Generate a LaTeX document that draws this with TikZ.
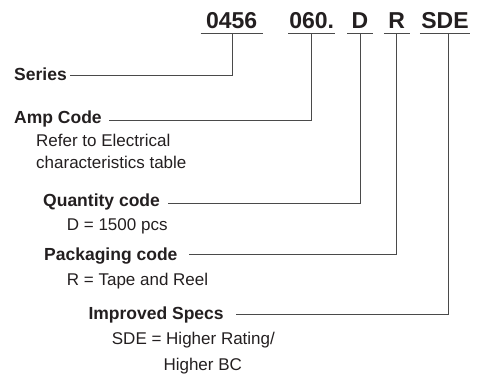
\documentclass[tikz,border=0pt]{standalone}
\usepackage{fontspec}
\setmainfont{Liberation Sans}
\usetikzlibrary{positioning}
\definecolor{tinta}{HTML}{231F20}
\definecolor{linea}{HTML}{4A4A4A}
\tikzset{
  codigo/.style={font=\fontsize{23}{23}\selectfont\bfseries, text=tinta, inner sep=0pt, text depth=5.2pt, anchor=base},
  titulo/.style={font=\fontsize{17.5}{17.5}\selectfont\bfseries, text=tinta, inner sep=0pt, anchor=base west},
  nota/.style={font=\fontsize{17}{17}\selectfont, text=tinta, inner sep=0pt, anchor=base west},
  guia/.style={draw=linea, line width=0.8pt},
}
\begin{document}
\begin{tikzpicture}[x=1pt,y=-1pt]
            \useasboundingbox (0,0) rectangle (477,377);
            \foreach \n/\t/\x/\w in {c0456/0456/231.7/62, c060/060./311.7/46.7, cD/D/360/25.4, cR/R/396.7/25.3, cSDE/SDE/445/50}
              {\node[codigo, minimum width=\w pt] (\n) at (\x,28.3) {\t};
               \draw[guia] (\n.south west) -- (\n.south east);} % subrayado
            \node[titulo] (serie) at (14,80.7) {Series};
            \node[titulo] (amp) at (14,124) {Amp Code};
            \node[nota] (ampnota) at (36,146.7) {Refer to Electrical};
            \node[nota] (ampnota2) at (36,168.3) {characteristics table};
            \node[titulo] (cant) at (43,206.5) {Quantity code};
            \node[nota] (cantnota) at (66.7,230) {D = 1500 pcs};
            \node[titulo] (emp) at (44,260.7) {Packaging code};
            \node[nota] (empnota) at (66.7,285) {R = Tape and Reel};
            \node[titulo] (mejora) at (88.3,319) {Improved Specs};
            \node[nota] (mejoranota) at (111.7,344.3) {SDE = Higher Rating/};
            \node[nota] (mejoranota2) at (163.3,370) {Higher BC};
            \draw[guia] ([xshift=1pt]c0456.south) |- ([xshift=3pt,yshift=5.7pt]serie.base east); % serie
            \draw[guia] (c060.south) |- ([xshift=6.7pt,yshift=3.3pt]amp.base east); % amperaje
            \draw[guia] (cD.south) |- ([xshift=8.3pt,yshift=3.5pt]cant.base east); % cantidad
            \draw[guia] (cR.south) |- ([xshift=11.3pt,yshift=6.7pt]emp.base east); % empaque
            \draw[guia] ([xshift=3.3pt]cSDE.south) |- ([xshift=11.7pt,yshift=4.7pt]mejora.base east); % specs
\end{tikzpicture}
\end{document}
